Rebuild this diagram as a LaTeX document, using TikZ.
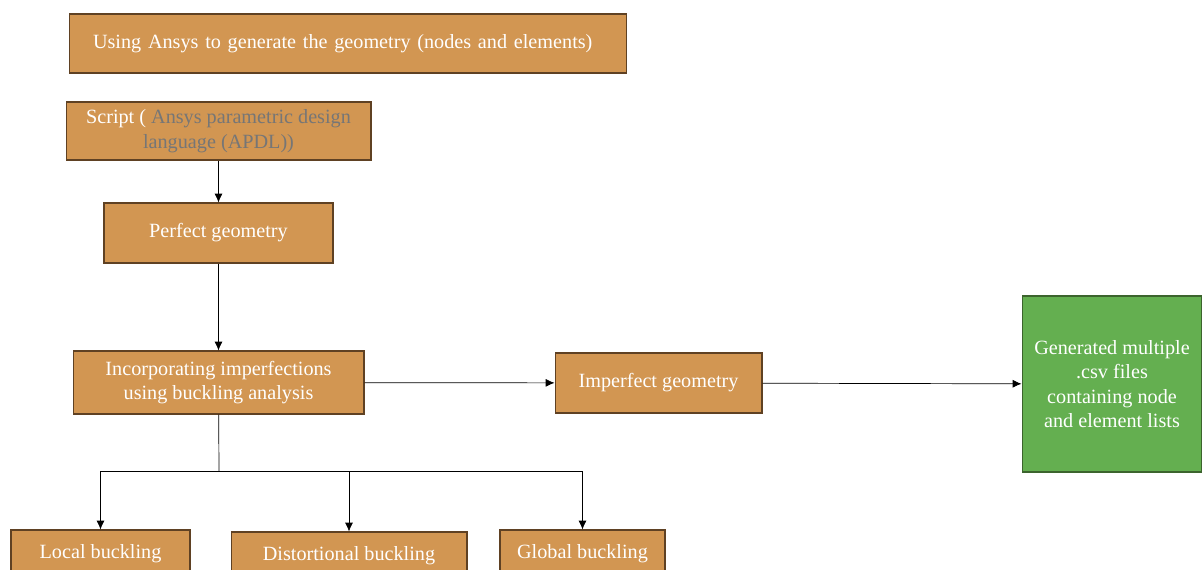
\documentclass[tikz,border=0pt]{standalone}
\usepackage{fontspec}
\setmainfont{Liberation Serif}
\usetikzlibrary{arrows.meta}
\definecolor{boxfill}{RGB}{210,150,82}
\definecolor{boxline}{RGB}{95,65,35}
\definecolor{csvfill}{RGB}{100,175,80}
\definecolor{csvline}{RGB}{60,100,45}
\definecolor{apdlgray}{RGB}{118,118,118}
\begin{document}
\begin{tikzpicture}[x=0.02cm, y=-0.02cm, >={Latex[length=5pt,width=4.5pt]},
  stepbox/.style={rectangle, draw=boxline, fill=boxfill, text=white, align=center,
    font=\fontsize{11.5}{14}\selectfont, inner sep=0pt, line width=0.6pt},
  csvbox/.style={stepbox, draw=csvline, fill=csvfill}]

\useasboundingbox (0,0) rectangle (1202,570);
\clip (0,0) rectangle (1202,570);

\node (ansys) [stepbox, text width=10.2cm, inner xsep=0.48cm, align=left, minimum height=1.18cm] at (348,43.5) {Using Ansys to generate the geometry (nodes and elements)};
\node (script) [stepbox, minimum width=6.1cm, minimum height=1.16cm] at (218.5,131) {Script ( \textcolor{apdlgray}{Ansys parametric design}\\\textcolor{apdlgray}{language (APDL))}};
\node (perfect) [stepbox, minimum width=4.58cm, minimum height=1.2cm] at (218.5,233) {Perfect geometry};
\node (incorp) [stepbox, minimum width=5.82cm, minimum height=1.26cm] at (218.5,382.5) {Incorporating imperfections\\using buckling analysis};
\node (imperfect) [stepbox, minimum width=4.14cm, minimum height=1.2cm] at (658.5,383) {Imperfect geometry};
\node (csv) [csvbox, minimum width=3.6cm, minimum height=3.52cm] at (1112,384) {Generated multiple\\.csv files\\containing node\\and element lists};
\node (local) [stepbox, minimum width=3.58cm, minimum height=0.96cm] at (100.5,554) {Local buckling};
\node (distort) [stepbox, minimum width=4.72cm, minimum height=0.96cm] at (349,556) {Distortional buckling};
\node (global) [stepbox, minimum width=3.3cm, minimum height=0.96cm] at (582.5,554) {Global buckling};
\coordinate (split) at (219,471);

\draw[->] (script) -- (perfect);
\draw[->] (perfect) -- (incorp);
\draw[->] (incorp) -- (imperfect);
\draw[->] (imperfect) -- (csv);
\draw (incorp) -- (split);
\draw[->] (split) -| (local);
\draw[->] (split) -| (distort);
\draw[->] (split) -| (global);

\end{tikzpicture}
\end{document}
